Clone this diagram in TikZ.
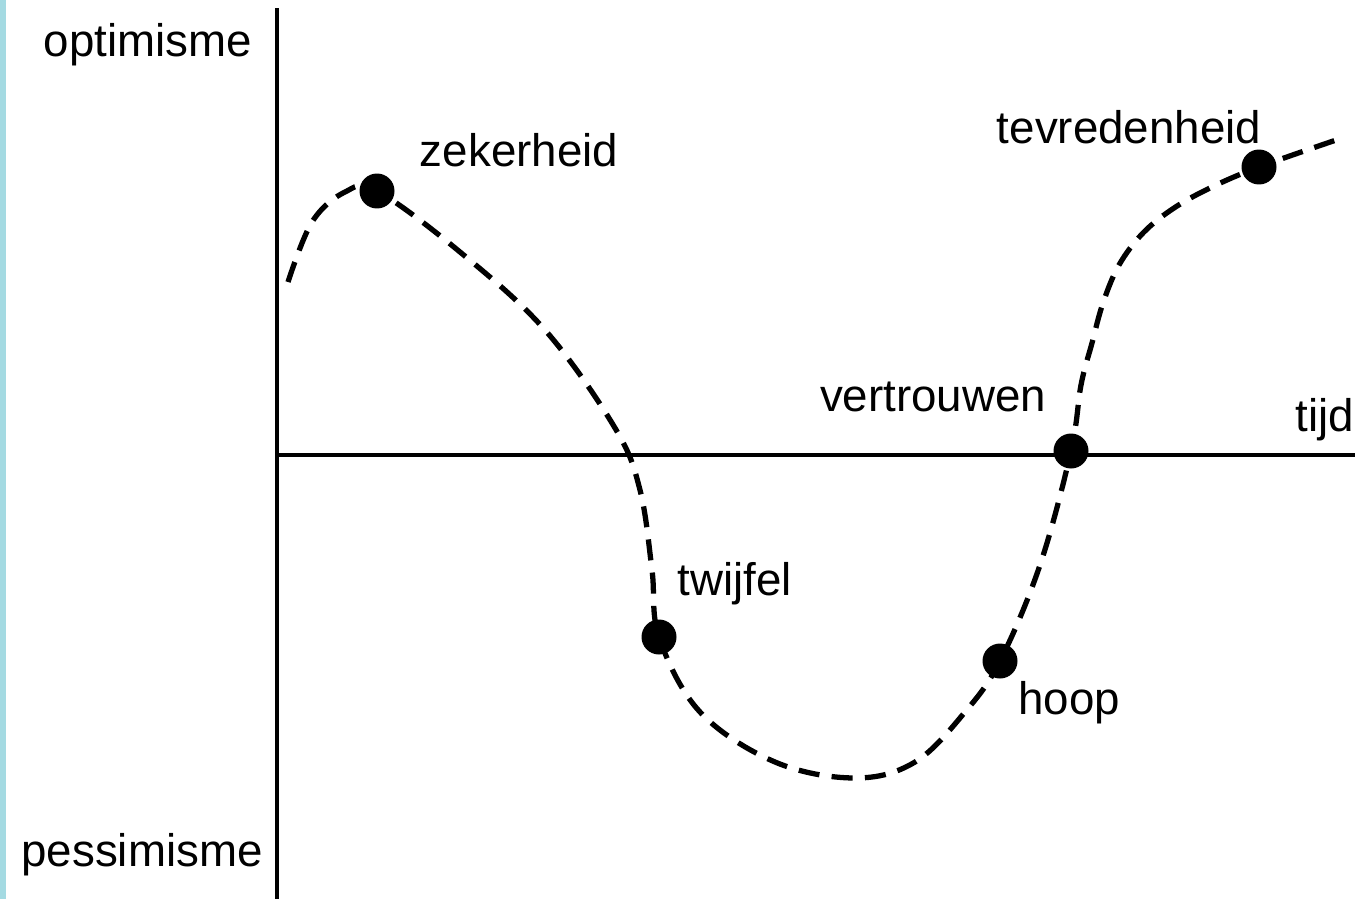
\documentclass[tikz,border=0pt]{standalone}
\usepackage{fontspec}
\setmainfont{Liberation Sans}
\usepackage{xcolor}
\usepackage{tikz}
\usetikzlibrary{positioning, calc}

\definecolor{edgeblue}{RGB}{164,218,226}
\tikzset{
  axisline/.style={line width=2.6pt},
  curveline/.style={line width=3pt, dash pattern=on 12pt off 7pt},
  stagedot/.style={circle, fill=black, inner sep=0pt, minimum size=0.7cm},
  lbl/.style={font=\fontsize{26}{30}\selectfont, inner sep=0pt}
}

\begin{document}
\begin{tikzpicture}[x=0.02cm, y=-0.02cm]
        \useasboundingbox (0,0) rectangle (1355,899);
        \fill[edgeblue] (0,0) rectangle (6,899);

        % axes
        \coordinate (top) at (277,8);
        \coordinate (bottom) at (277,899);
        \coordinate (origin) at (277,455);
        \coordinate (end) at (1355,455);
        \draw[axisline] (top) -- (bottom);
        \draw[axisline] (origin) -- (end);

        \node[lbl] (opt) at (148,45) {optimisme};
        \node[lbl] (pes) at (142,855) {pessimisme};
        \node[lbl] (tijd) at (1325,420) {tijd};

        % stages on the curve
        \foreach \n/\x/\y in {zek/377/191, twi/659/637, hoo/1000/661, ver/1071/451, tev/1259/167} {
          \coordinate (\n) at (\x,\y);
        }
        \coordinate (start) at (288,282);
        \coordinate (stop) at (1342,138);

        \draw[curveline] plot[smooth, tension=0.6] coordinates {(start) (312,222) (345,192) (zek) (460,252) (545,330) (615,428) (640,490) (652,570) (twi) (700,712) (775,762) (855,778) (915,762) (965,712) (hoo) (1040,565) (ver) (1081,385) (1092,343) (1103,303) (1119,265) (1143,233) (1174,208) (1212,187) (tev) (stop)};

        \foreach \n in {zek, twi, hoo, ver, tev} {
          \node[stagedot] at (\n) {};
        }

        \node[lbl] (zekl) at (519,150) {zekerheid};
        \node[lbl] (twil) at (735,584) {twijfel};
        \node[lbl] (hool) at (1069,703) {hoop};
        \node[lbl] (verl) at (933,397) {vertrouwen};
        \node[lbl] (tevl) at (1129,127) {tevredenheid};
      \end{tikzpicture}
\end{document}
